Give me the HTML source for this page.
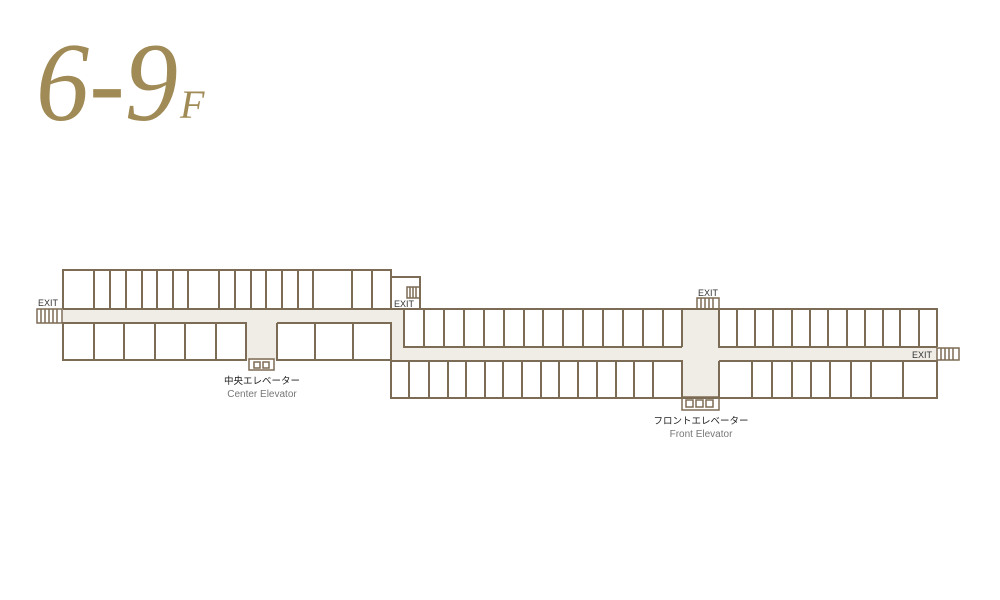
<!DOCTYPE html>
<html><head><meta charset="utf-8"><style>
html,body{margin:0;padding:0;background:#fff;}
svg{display:block;}
</style></head><body>
<svg width="1000" height="600" viewBox="0 0 1000 600" xmlns="http://www.w3.org/2000/svg">
<text x="36" y="120" font-family="Liberation Serif, serif" font-style="italic" font-size="112" fill="#a08a55" textLength="142" lengthAdjust="spacingAndGlyphs">6-9</text>
<text x="180" y="118" font-family="Liberation Serif, serif" font-style="italic" font-size="40" fill="#a08a55">F</text>

<g fill="#f0ede6">
<rect x="63" y="309" width="328" height="14"/>
<rect x="391" y="309" width="13" height="52"/>
<rect x="391" y="347" width="546" height="14"/>
<rect x="246" y="323" width="31" height="37"/>
<rect x="682" y="309" width="37" height="89"/>
</g>

<g fill="none" stroke="#7d6c55" stroke-width="2">
<!-- left top rooms -->
<path d="M63 309V270H391V309 M94 270V309 M110 270V309 M126 270V309 M142 270V309 M157 270V309 M173 270V309 M188 270V309 M219 270V309 M235 270V309 M251 270V309 M266 270V309 M282 270V309 M298 270V309 M313 270V309 M352 270V309 M372 270V309 M63 309H391"/>
<!-- left bottom rooms -->
<path d="M63 323H246V360H63Z M94 323V360 M124 323V360 M155 323V360 M185 323V360 M216 323V360"/>
<path d="M277 323H391V361 M277 323V360H391 M315 323V360 M353 323V360"/>
<!-- stair room -->
<path d="M391 309V277H420V309"/>
<!-- right top rooms -->
<path d="M391 309H937V347 M404 323V347H682 M424 309V347 M444 309V347 M464 309V347 M484 309V347 M504 309V347 M524 309V347 M543 309V347 M563 309V347 M583 309V347 M603 309V347 M623 309V347 M643 309V347 M663 309V347 M682 309V347"/>
<path d="M404 309V323"/>
<path d="M719 309V347H937 M737 309V347 M755 309V347 M773 309V347 M792 309V347 M810 309V347 M828 309V347 M847 309V347 M865 309V347 M883 309V347 M900 309V347 M919 309V347"/>
<!-- right bottom rooms -->
<path d="M391 361H682V398H391Z M409 361V398 M429 361V398 M448 361V398 M466 361V398 M485 361V398 M503 361V398 M522 361V398 M541 361V398 M559 361V398 M578 361V398 M597 361V398 M616 361V398 M634 361V398 M653 361V398"/>
<path d="M719 361H937V398H682 M719 361V398 M752 361V398 M772 361V398 M792 361V398 M811 361V398 M830 361V398 M851 361V398 M871 361V398 M903 361V398"/>
</g>
<g fill="none" stroke="#7d6c55" stroke-width="1.5">
<!-- center elevator -->
<rect x="249" y="359" width="25" height="11"/>
<rect x="254" y="362" width="6" height="6"/><rect x="263" y="362" width="6" height="6"/>
<!-- front elevator -->
<rect x="682" y="397" width="37" height="13"/>
<rect x="686" y="400" width="7" height="7"/><rect x="696" y="400" width="7" height="7"/><rect x="706" y="400" width="7" height="7"/>
<!-- stairs -->
<rect x="37" y="309" width="25" height="14"/>
<path d="M41 309V323M45 309V323M49 309V323M53 309V323M57 309V323"/>
<rect x="407" y="287" width="13" height="11"/>
<path d="M410 287V298M413 287V298M416 287V298"/>
<rect x="697" y="298" width="22" height="11"/>
<path d="M701 298V309M705 298V309M709 298V309M713 298V309"/>
<rect x="937" y="348" width="22" height="12"/>
<path d="M941 348V360M945 348V360M949 348V360M953 348V360"/>
</g>
<g font-family="Liberation Sans, sans-serif" font-size="9" fill="#333">
<text x="38" y="306">EXIT</text>
<text x="394" y="307">EXIT</text>
<text x="698" y="296">EXIT</text>
<text x="912" y="358">EXIT</text>
</g>
<g font-family="Liberation Sans, 'Noto Sans CJK JP', sans-serif" font-size="9.5" text-anchor="middle">
<text x="262" y="384" fill="#222">中央エレベーター</text>
<text x="262" y="397" fill="#777" font-size="10">Center Elevator</text>
<text x="701" y="424" fill="#222">フロントエレベーター</text>
<text x="701" y="437" fill="#777" font-size="10">Front Elevator</text>
</g>
</svg>
</body></html>
